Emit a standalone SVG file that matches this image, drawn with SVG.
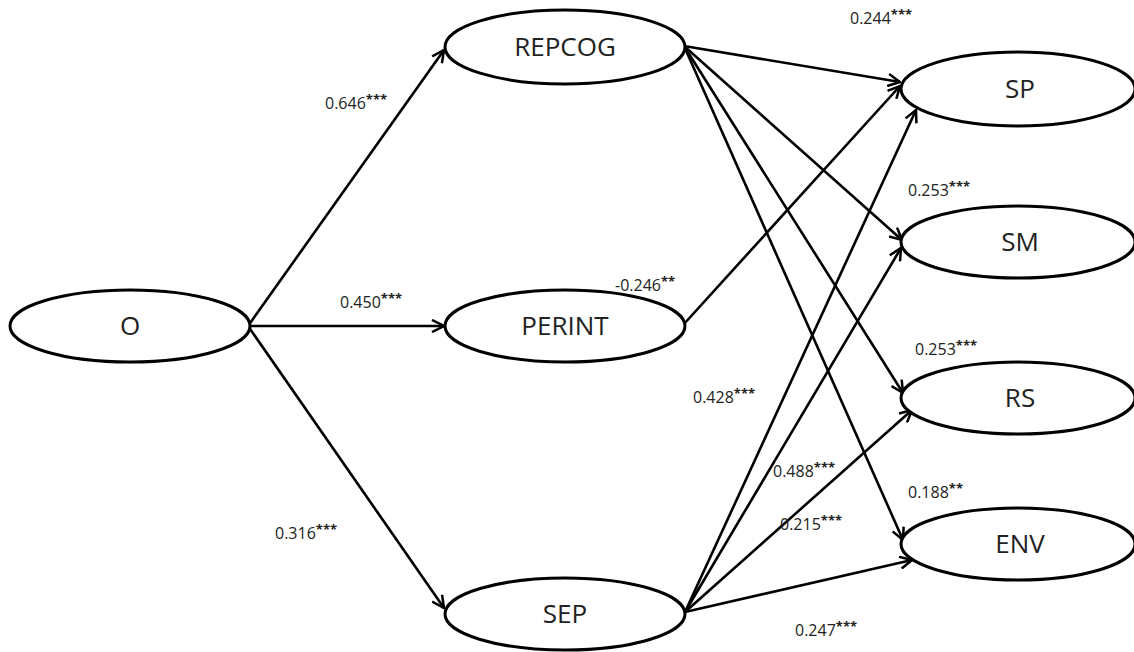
<svg xmlns="http://www.w3.org/2000/svg" width="1134" height="652" viewBox="0 0 1134 652">
<defs>
<marker id="ah" viewBox="0 0 14 14" refX="13" refY="7" markerWidth="14" markerHeight="14" markerUnits="userSpaceOnUse" orient="auto">
<path d="M1,1 L13,7 L1,13" fill="none" stroke="#000" stroke-width="2.5"/>
</marker>
<style>
.n{fill:#fff;stroke:#000;stroke-width:3}
.t{font-family:"Open Sans","Liberation Sans",sans-serif;font-size:26px;fill:#222;text-anchor:middle}
.c{fill:none;stroke:#000;stroke-width:2.6;marker-end:url(#ah)}
.l{font-family:"Open Sans","Liberation Sans",sans-serif;font-size:16px;fill:#222}
.s{font-size:13px;font-weight:bold}
</style>
</defs>
<rect width="1134" height="652" fill="#fff"/>
<g id="connectors">
<path class="c" d="M248,326 L444,50"/>
<path class="c" d="M248,326 L444,326"/>
<path class="c" d="M248,326 L444,608"/>
<path class="c" d="M684,46 L900,82"/>
<path class="c" d="M684,46 L902,240"/>
<path class="c" d="M684,46 L903,393"/>
<path class="c" d="M684,46 L903,540"/>
<path class="c" d="M684,324 L900,86"/>
<path class="c" d="M685,612 L916,110"/>
<path class="c" d="M685,612 L901,248"/>
<path class="c" d="M685,612 L912,410"/>
<path class="c" d="M685,612 L912,560"/>
</g>
<g id="node-O"><ellipse class="n" cx="130" cy="326" rx="120" ry="36"/><text class="t" x="130" y="335">O</text></g>
<g id="node-REPCOG"><ellipse class="n" cx="565" cy="47" rx="120" ry="37"/><text class="t" x="565" y="56">REPCOG</text></g>
<g id="node-PERINT"><ellipse class="n" cx="565" cy="326" rx="120" ry="36"/><text class="t" x="565" y="335">PERINT</text></g>
<g id="node-SEP"><ellipse class="n" cx="565" cy="614" rx="120" ry="36"/><text class="t" x="565" y="623">SEP</text></g>
<g id="node-SP"><ellipse class="n" cx="1018" cy="89" rx="117" ry="37"/><text class="t" x="1020" y="98">SP</text></g>
<g id="node-SM"><ellipse class="n" cx="1018" cy="242" rx="117" ry="36"/><text class="t" x="1020" y="251">SM</text></g>
<g id="node-RS"><ellipse class="n" cx="1018" cy="398" rx="117" ry="36"/><text class="t" x="1020" y="407">RS</text></g>
<g id="node-ENV"><ellipse class="n" cx="1018" cy="544" rx="117" ry="36"/><text class="t" x="1020" y="553">ENV</text></g>
<g id="labels">
<text class="l" x="325" y="109">0.646<tspan class="s" dy="-5">***</tspan></text>
<text class="l" x="340" y="308">0.450<tspan class="s" dy="-5">***</tspan></text>
<text class="l" x="275" y="539">0.316<tspan class="s" dy="-5">***</tspan></text>
<text class="l" x="615" y="291">-0.246<tspan class="s" dy="-5">**</tspan></text>
<text class="l" x="850" y="24">0.244<tspan class="s" dy="-5">***</tspan></text>
<text class="l" x="908" y="196">0.253<tspan class="s" dy="-5">***</tspan></text>
<text class="l" x="915" y="355">0.253<tspan class="s" dy="-5">***</tspan></text>
<text class="l" x="693" y="403">0.428<tspan class="s" dy="-5">***</tspan></text>
<text class="l" x="773" y="477">0.488<tspan class="s" dy="-5">***</tspan></text>
<text class="l" x="908" y="498">0.188<tspan class="s" dy="-5">**</tspan></text>
<text class="l" x="780" y="530">0.215<tspan class="s" dy="-5">***</tspan></text>
<text class="l" x="795" y="636">0.247<tspan class="s" dy="-5">***</tspan></text>
</g>
</svg>
